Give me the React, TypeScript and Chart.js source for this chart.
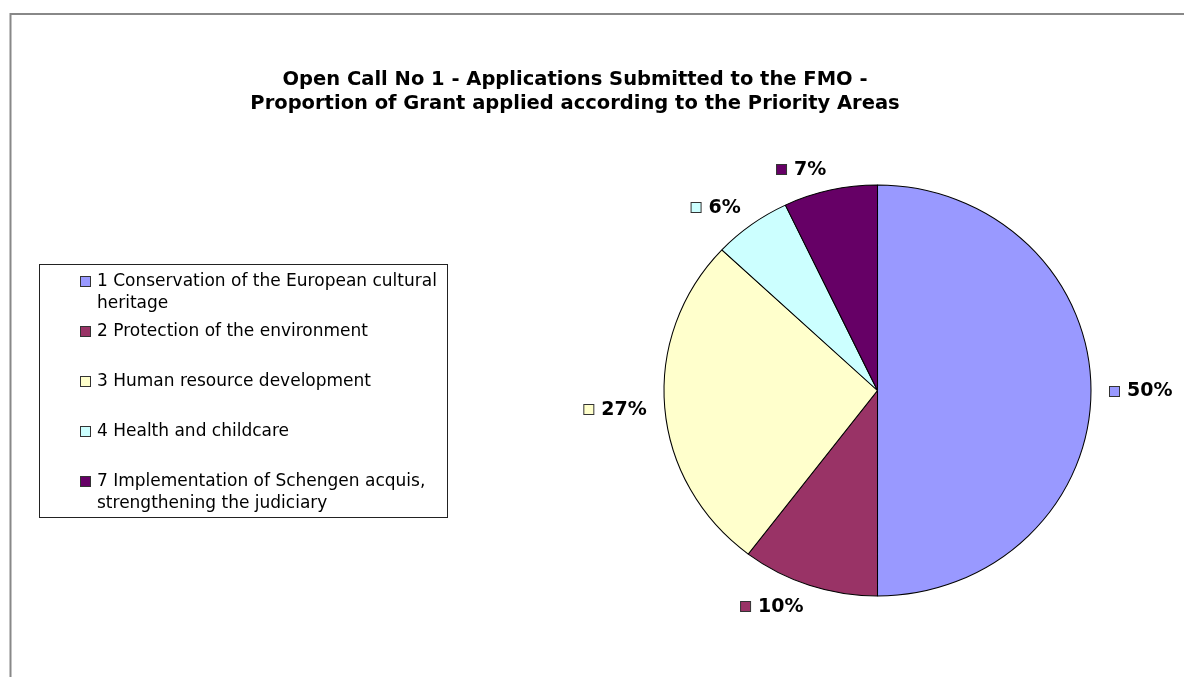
import { useEffect, useRef } from "react";
import { Chart, registerables } from "chart.js";

Chart.register(...registerables);

const titleLines = [
  "Open Call No 1 - Applications Submitted to the FMO -",
  "Proportion of Grant applied according to the Priority Areas",
];

const categories: string[][] = [
  ["1 Conservation of the European cultural", "heritage"],
  ["2 Protection of the environment"],
  ["3 Human resource development"],
  ["4 Health and childcare"],
  ["7 Implementation of Schengen acquis,", "strengthening the judiciary"],
];

const values = [50.0, 10.35, 26.65, 5.9, 7.1];

const colors = ["#9999FF", "#993366", "#FFFFCC", "#CCFFFF", "#660066"];

const W = 1184;
const H = 677;
const SX = 213.5 / 205.5; // horizontal stretch of the pie (ellipse)
const FONT = "'DejaVu Sans', Verdana, sans-serif";

const ellipsePlugin = {
  id: "ellipse",
  beforeDatasetsDraw(chart: any) {
    const arc = chart.getDatasetMeta(0).data[0];
    const ctx = chart.ctx;
    ctx.save();
    ctx.translate(arc.x, arc.y);
    ctx.scale(SX, 1);
    ctx.translate(-arc.x, -arc.y);
  },
  afterDatasetsDraw(chart: any) {
    chart.ctx.restore();
  },
};

const decorPlugin = {
  id: "decor",
  afterDraw(chart: any) {
    const ctx: CanvasRenderingContext2D = chart.ctx;
    ctx.save();

    // outer frame
    ctx.strokeStyle = "#888888";
    ctx.lineWidth = 2;
    ctx.beginPath();
    ctx.moveTo(10.5, H);
    ctx.lineTo(10.5, 14);
    ctx.lineTo(W, 14);
    ctx.stroke();

    // title
    ctx.fillStyle = "#000";
    ctx.font = `bold 19.5px ${FONT}`;
    ctx.textAlign = "center";
    ctx.textBaseline = "middle";
    ctx.fillText(titleLines[0], 575, 80);
    ctx.fillText(titleLines[1], 575, 104);

    // legend box
    ctx.strokeStyle = "#222";
    ctx.lineWidth = 1;
    ctx.strokeRect(39.5, 264.5, 408, 253);
    ctx.font = `17px ${FONT}`;
    ctx.textAlign = "left";
    const starts = [282, 332, 382, 432, 482];
    categories.forEach((lines, i) => {
      const y0 = starts[i];
      ctx.fillStyle = colors[i];
      ctx.fillRect(80.5, y0 - 5.5, 10, 10);
      ctx.strokeStyle = "#333";
      ctx.strokeRect(80.5, y0 - 5.5, 10, 10);
      ctx.fillStyle = "#000";
      lines.forEach((t, j) => ctx.fillText(t, 97, y0 + j * 22));
    });

    // data labels
    const meta = chart.getDatasetMeta(0);
    const total = values.reduce((a, b) => a + b, 0);
    ctx.font = `bold 19px ${FONT}`;
    meta.data.forEach((arc: any, i: number) => {
      const mid = (arc.startAngle + arc.endAngle) / 2;
      const dx = Math.cos(mid);
      const dy = Math.sin(mid);
      const rx = arc.outerRadius * SX + 18;
      const ry = arc.outerRadius + 12;
      const px = arc.x + dx * rx;
      const py = arc.y + dy * ry;
      const text = Math.round((values[i] / total) * 100) + "%";
      const tw = ctx.measureText(text).width;
      const bw = 18 + tw;
      const bh = 19;
      const left = dx >= 0 ? px : px - bw;
      const cy = py + dy * (bh / 2);
      ctx.fillStyle = colors[i];
      ctx.fillRect(left + 0.5, Math.round(cy - 5) + 0.5, 10, 10);
      ctx.strokeStyle = "#333";
      ctx.strokeRect(left + 0.5, Math.round(cy - 5) + 0.5, 10, 10);
      ctx.fillStyle = "#000";
      ctx.fillText(text, left + 18, cy + 1);
    });

    ctx.restore();
  },
};

export default function App() {
  const ref = useRef<HTMLCanvasElement | null>(null);

  useEffect(() => {
    document.body.style.margin = "0";
    document.body.style.background = "#fff";
    const canvas = ref.current;
    if (!canvas) return;
    const chart = new Chart(canvas, {
      type: "pie",
      data: {
        labels: categories.map((l) => l.join(" ")),
        datasets: [
          {
            data: values,
            backgroundColor: colors,
            borderColor: "#000",
            borderWidth: 1,
            clip: false,
          } as any,
        ],
      },
      options: {
        responsive: false,
        animation: false,
        layout: {
          padding: { left: 671.5, right: 100.5, top: 184.5, bottom: 80.5 },
        },
        plugins: {
          legend: { display: false },
          title: { display: false },
          tooltip: { enabled: false },
        },
      },
      plugins: [ellipsePlugin, decorPlugin],
    });
    return () => chart.destroy();
  }, []);

  return (
    <div style={{ width: W, height: H, background: "#fff" }}>
      <canvas ref={ref} width={W} height={H} style={{ display: "block", width: W, height: H }} />
    </div>
  );
}
